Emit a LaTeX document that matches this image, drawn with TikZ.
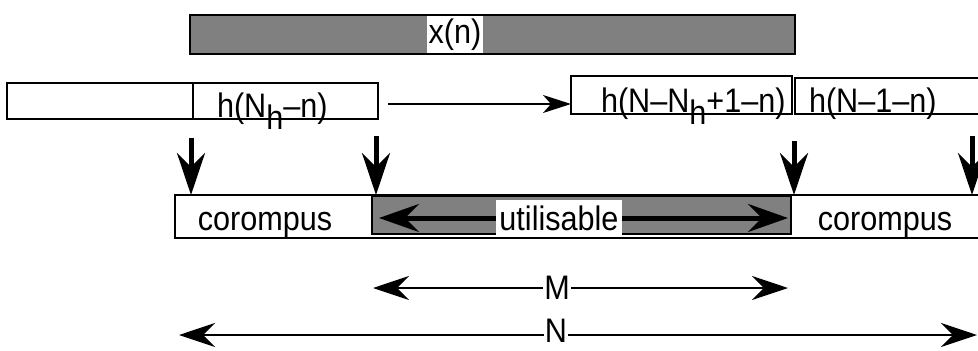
\documentclass[tikz,border=0pt]{standalone}
\usepackage{fontspec}
\setmainfont{Liberation Sans}[FakeStretch=0.9]
\usetikzlibrary{arrows.meta}
\definecolor{midgray}{HTML}{808080}
\tikzset{
  txt/.style={font=\fontsize{34}{40}\selectfont, inner sep=0pt, outer sep=0pt},
  cell/.style={draw=black, line width=2.5pt, anchor=north west, inner sep=0pt, outer sep=0pt},
  whitelab/.style={txt, fill=white, inner xsep=2pt},
  downarrow/.style={line width=5pt, -{Stealth[length=42pt,width=28pt,inset=14pt]}},
  bigdouble/.style={line width=5pt, {Stealth[length=40pt,width=28pt,inset=14pt]}-{Stealth[length=40pt,width=28pt,inset=14pt]}},
  dimline/.style={line width=2.5pt, {Stealth[length=36pt,width=24pt,inset=12pt]}-{Stealth[length=36pt,width=24pt,inset=12pt]}},
  flow/.style={line width=2pt, -{Stealth[length=28pt,width=18pt,inset=8pt]}}
}
\begin{document}
\begin{tikzpicture}[x=1pt,y=-1pt]
\clip (0,0) rectangle (978,351);
\fill[white] (0,0) rectangle (978,351);

% top signal x(n)
\node[cell, fill=midgray, minimum width=605pt, minimum height=39pt] (xn) at (190,15) {};
\node[whitelab, minimum height=37pt, inner xsep=2pt] (xnlab) at (455,34.5) {x(n)};

% left filter boxes
\node[cell, minimum width=186pt, minimum height=36pt] (hl0) at (7,83) {};
\node[cell, minimum width=185pt, minimum height=36pt] (hl1) at (193,83) {};
\node[txt, anchor=base west] (hl1lab) at (217,117) {h(N\raisebox{-12pt}{h}–n)};

% right filter boxes
\node[cell, minimum width=221pt, minimum height=38pt] (hr1) at (571,76) {};
\node[cell, minimum width=220pt, minimum height=36pt] (hr2) at (795,78) {};
\node[txt, anchor=base west] (hr1lab) at (601,112) {h(N–N\raisebox{-12pt}{h}+1–n)};
\node[txt, anchor=base west] (hr2lab) at (809,112) {h(N–1–n)};

% shift arrow
\coordinate (fs) at (388,104);
\coordinate (fe) at (571,104);
\draw[flow] (fs) -- (fe);

% bottom output row
\node[cell, minimum width=830pt, minimum height=43pt] (out) at (175,195) {};
\node[cell, fill=midgray, minimum width=419pt, minimum height=38pt] (util) at (372,196) {};
\node[txt, anchor=base] (c1) at (265,230) {corompus};
\node[txt, anchor=base] (c2) at (885,230) {corompus};

% down arrows
\coordinate (d1s) at (191,138); \coordinate (d1e) at (191,195);
\coordinate (d2s) at (376,136); \coordinate (d2e) at (376,195);
\coordinate (d3s) at (794,141); \coordinate (d3e) at (794,195);
\coordinate (d4s) at (972,136); \coordinate (d4e) at (972,195);
\draw[downarrow] (d1s) -- (d1e);
\draw[downarrow] (d2s) -- (d2e);
\draw[downarrow] (d3s) -- (d3e);
\draw[downarrow] (d4s) -- (d4e);

% utilisable span
\coordinate (us) at (379,218);
\coordinate (ue) at (788,218);
\draw[bigdouble] (us) -- (ue);
\node[whitelab, minimum height=37pt, inner xsep=3pt] (ulab) at (559,218.5) {utilisable};

% M span
\coordinate (ms) at (373,288);
\coordinate (me) at (788,288);
\draw[dimline] (ms) -- (me);
\node[whitelab, inner xsep=1pt] (mlab) at (557,288) {M};

% N span
\coordinate (ns) at (179,335);
\coordinate (ne) at (977,335);
\draw[dimline] (ns) -- (ne);
\node[whitelab, inner xsep=1pt] (nlab) at (556,331) {N};
\end{tikzpicture}
\end{document}
